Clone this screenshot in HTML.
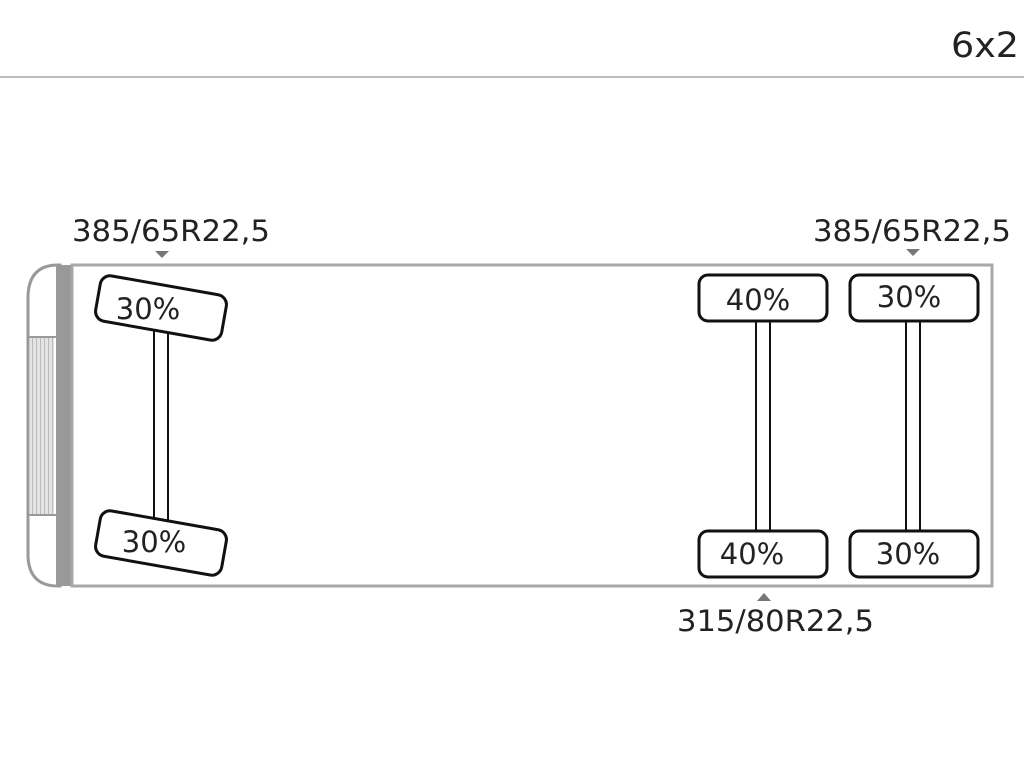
<!DOCTYPE html>
<html><head><meta charset="utf-8"><style>
html,body{margin:0;padding:0;background:#fff;width:1024px;height:768px;overflow:hidden}
text{font-family:"DejaVu Sans","Liberation Sans",sans-serif;fill:#222}
</style></head><body>
<svg width="1024" height="768" viewBox="0 0 1024 768" xmlns="http://www.w3.org/2000/svg">
<defs>
<pattern id="st" width="4" height="4" patternUnits="userSpaceOnUse">
<rect width="4" height="4" fill="#e4e4e4"/><rect width="1" height="4" fill="#bbb"/>
</pattern>
</defs>
<text x="1019" y="57" font-size="35" text-anchor="end" textLength="68" lengthAdjust="spacingAndGlyphs">6x2</text>
<line x1="0" y1="77" x2="1024" y2="77" stroke="#bbb" stroke-width="2"/>
<!-- cab -->
<path d="M58 265 H60 V586 H58 Q29 586 28 556 V296 Q29 265 58 265 Z" fill="#fff" stroke="#999" stroke-width="3"/>
<rect x="30" y="337" width="24" height="178" fill="url(#st)"/>
<line x1="29" y1="337" x2="56" y2="337" stroke="#999" stroke-width="2"/>
<line x1="29" y1="515" x2="56" y2="515" stroke="#999" stroke-width="2"/>
<rect x="56" y="265" width="16" height="321" fill="#999"/>
<rect x="72" y="265" width="920" height="321" fill="#fff" stroke="#a8a8a8" stroke-width="3"/>
<!-- front axle -->
<rect x="154" y="330" width="14" height="195" fill="#fff" stroke="#111" stroke-width="2"/>
<g transform="rotate(10 161 308)"><rect x="97" y="285" width="128" height="46" rx="10" fill="#fff" stroke="#111" stroke-width="3"/></g>
<text x="148" y="319" font-size="29" text-anchor="middle">30%</text>
<g transform="rotate(10 161 543)"><rect x="97" y="520" width="128" height="46" rx="10" fill="#fff" stroke="#111" stroke-width="3"/></g>
<text x="154" y="552" font-size="29" text-anchor="middle">30%</text>
<!-- rear axles -->
<rect x="756" y="320" width="14" height="212" fill="#fff" stroke="#111" stroke-width="2"/>
<rect x="906" y="320" width="14" height="212" fill="#fff" stroke="#111" stroke-width="2"/>
<rect x="699" y="275" width="128" height="46" rx="9" fill="#fff" stroke="#111" stroke-width="3"/>
<rect x="850" y="275" width="128" height="46" rx="9" fill="#fff" stroke="#111" stroke-width="3"/>
<rect x="699" y="531" width="128" height="46" rx="9" fill="#fff" stroke="#111" stroke-width="3"/>
<rect x="850" y="531" width="128" height="46" rx="9" fill="#fff" stroke="#111" stroke-width="3"/>
<text x="758" y="310" font-size="29" text-anchor="middle">40%</text>
<text x="909" y="307" font-size="29" text-anchor="middle">30%</text>
<text x="752" y="564" font-size="29" text-anchor="middle">40%</text>
<text x="908" y="564" font-size="29" text-anchor="middle">30%</text>
<!-- labels -->
<text x="72" y="241" font-size="29" textLength="198" lengthAdjust="spacingAndGlyphs">385/65R22,5</text>
<text x="813" y="241" font-size="29" textLength="198" lengthAdjust="spacingAndGlyphs">385/65R22,5</text>
<text x="677" y="631" font-size="29" textLength="197" lengthAdjust="spacingAndGlyphs">315/80R22,5</text>
<polygon points="155,251 169,251 162,258" fill="#777"/>
<polygon points="906,249 920,249 913,256" fill="#777"/>
<polygon points="757,601 771,601 764,593" fill="#777"/>
</svg>
</body></html>
